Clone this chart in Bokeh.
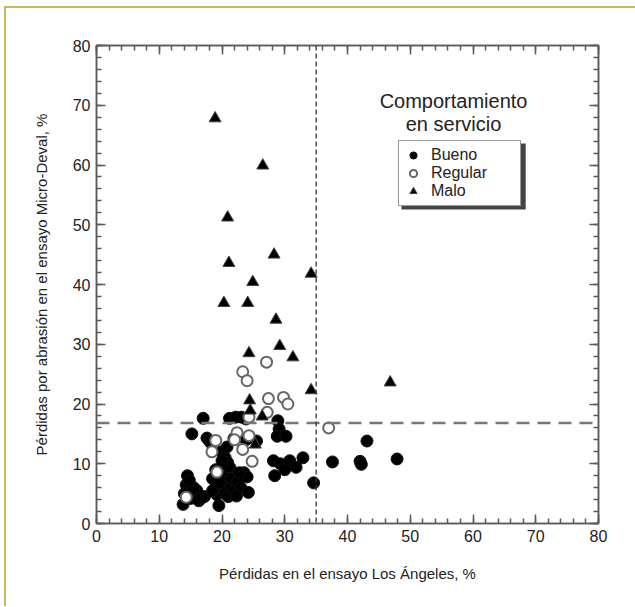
from bokeh.plotting import figure
from bokeh.models import (SingleIntervalTicker, LinearAxis, Span, Legend, LegendItem,
                          Label, BoxAnnotation, Range1d)
from bokeh.embed import file_html
from bokeh.resources import INLINE

# ---- data ----
bueno_x = [17.0, 15.2, 17.6, 18.3, 21.2, 22.2, 23.1, 23.8, 28.9, 29.1, 28.8, 30.2,
           23.8, 25.5, 21.9, 19.9, 20.5, 20.9, 21.3, 20.2, 19.8, 21.5, 22.0, 23.5, 24.0,
           14.5, 14.3, 14.0, 13.8, 15.0, 16.0, 16.3, 17.2, 15.5, 14.8,
           18.5, 19.0, 19.5, 19.2, 18.5, 20.0, 20.5, 21.0, 21.5, 20.5, 21.0, 20.0,
           21.5, 22.0, 22.5, 22.8, 23.0, 19.0, 24.2, 22.3, 18.0, 16.8, 20.8, 19.6,
           28.2, 29.3, 30.8, 32.9, 31.8, 28.4, 30.0,
           34.6, 37.6, 42.0, 42.2, 43.1, 47.9]
bueno_y = [17.6, 15.0, 14.3, 13.4, 17.6, 17.8, 17.8, 17.5, 17.2, 15.8, 14.6, 14.6,
           14.0, 13.8, 14.2, 12.0, 11.0, 10.2, 9.3, 9.0, 8.0, 8.5, 7.6, 8.5, 7.8,
           8.0, 6.5, 5.0, 3.2, 4.2, 5.5, 3.8, 4.5, 6.0, 7.2,
           7.5, 6.0, 3.0, 4.8, 5.5, 6.5, 5.0, 4.5, 6.0, 8.0, 9.5, 10.5,
           7.5, 5.5, 7.0, 8.5, 6.0, 9.0, 5.2, 4.6, 13.8, 4.3, 12.8, 6.8,
           10.5, 10.0, 10.5, 11.0, 9.4, 8.0, 9.0,
           6.8, 10.3, 10.4, 9.9, 13.8, 10.8]

regular_x = [27.1, 23.3, 24.0, 27.4, 29.8, 30.5, 27.2, 24.3, 37.0, 22.4, 24.3,
             19.0, 23.3, 18.4, 24.8, 19.2, 14.3, 22.0]
regular_y = [27.0, 25.4, 23.9, 20.9, 21.1, 20.0, 18.6, 17.8, 16.0, 15.2, 14.7,
             13.9, 12.4, 12.0, 10.4, 8.6, 4.4, 14.0]

malo_x = [18.9, 26.5, 20.9, 28.3, 21.1, 34.2, 24.9, 20.3, 24.1, 28.6, 24.3, 29.2,
          31.3, 34.2, 46.8, 24.4, 24.5, 26.4, 25.3]
malo_y = [67.8, 59.9, 51.2, 45.0, 43.6, 41.8, 40.4, 36.9, 36.9, 34.1, 28.5, 29.7,
          27.8, 22.3, 23.6, 20.6, 18.9, 17.9, 13.2]

limite_la = 35.0      # vertical reference line (Los Ángeles)
limite_md = 16.8      # horizontal reference line (Micro-Deval)

FONT = "Liberation Sans"
TXT = "#222222"
AX = "#5a5a5a"

p = figure(width=631, height=600, output_backend="svg", toolbar_location=None,
           x_range=Range1d(0, 80), y_range=Range1d(0, 80),
           min_border_left=90, min_border_right=39, min_border_top=37,
           min_border_bottom=85, x_axis_location=None, y_axis_location=None)
p.styles = {"border-top": "2px solid #c9b757", "border-left": "2px solid #c9b757",
            "margin-left": "4px", "margin-top": "6px"}
p.grid.visible = False
p.outline_line_color = AX
p.outline_line_width = 1.5
p.background_fill_color = "white"
p.border_fill_color = "white"

def mk_axis(loc, show_labels, label=None):
    ax = LinearAxis(ticker=SingleIntervalTicker(interval=10, num_minor_ticks=5))
    ax.axis_line_color = AX
    ax.axis_line_width = 1.5
    ax.major_tick_in = 9
    ax.major_tick_out = 0
    ax.minor_tick_in = 5
    ax.minor_tick_out = 0
    ax.major_tick_line_color = AX
    ax.minor_tick_line_color = AX
    ax.major_tick_line_width = 1.5
    ax.minor_tick_line_width = 1.5
    if show_labels:
        ax.major_label_text_font = FONT
        ax.major_label_text_font_size = "16px"
        ax.major_label_text_color = TXT
        ax.major_label_standoff = 6
    else:
        ax.major_label_text_font_size = "0px"
        ax.major_label_text_alpha = 0
    if label:
        ax.axis_label = label
        ax.axis_label_text_font = FONT
        ax.axis_label_text_font_size = "15px"
        ax.axis_label_text_font_style = "normal"
        ax.axis_label_text_color = TXT
        ax.axis_label_standoff = 20
    p.add_layout(ax, loc)
    return ax

mk_axis("below", True, "Pérdidas en el ensayo Los Ángeles, %")
mk_axis("left", True, "Pérdidas por abrasión en el ensayo Micro-Deval, %")
mk_axis("above", False)
mk_axis("right", False)

# reference lines
p.add_layout(Span(location=limite_md, dimension="width", line_color="#777777",
                  line_width=2.5, line_dash="13 8"))
p.add_layout(Span(location=limite_la, dimension="height", line_color="#333333",
                  line_width=1.3, line_dash="5 3"))

r_bueno = p.scatter(bueno_x, bueno_y, marker="circle", size=12,
                    fill_color="black", line_color="#111111", line_width=1)
r_regular = p.scatter(regular_x, regular_y, marker="circle", size=11,
                      fill_color="white", line_color="#666666", line_width=2)
r_malo = p.scatter(malo_x, malo_y, marker="triangle", size=12,
                   fill_color="black", line_color="#444444", line_width=1)

# legend title
for i, t in enumerate(["Comportamiento", "en servicio"]):
    p.add_layout(Label(x=56.9, y=70.7 - i * 3.9, text=t, text_font=FONT,
                       text_font_size="20px", text_color=TXT, text_align="center",
                       text_baseline="middle"))

# legend shadow
p.add_layout(BoxAnnotation(left=48.6, right=68.4, top=63.6, bottom=52.55,
                           fill_color="#444444", fill_alpha=1, line_alpha=0, level="underlay"))

legend = Legend(items=[LegendItem(label="Bueno", renderers=[r_bueno]),
                       LegendItem(label="Regular", renderers=[r_regular]),
                       LegendItem(label="Malo", renderers=[r_malo])],
                location=(302, 317), label_text_font=FONT, label_text_font_size="16px",
                label_text_color=TXT, border_line_color="#333333", border_line_width=1.5,
                background_fill_alpha=1, background_fill_color="white",
                glyph_width=18, glyph_height=18, label_height=18, label_width=84,
                spacing=0, padding=5, margin=0, label_standoff=9)
p.add_layout(legend)

open("out.html", "w").write(file_html(p, INLINE))
